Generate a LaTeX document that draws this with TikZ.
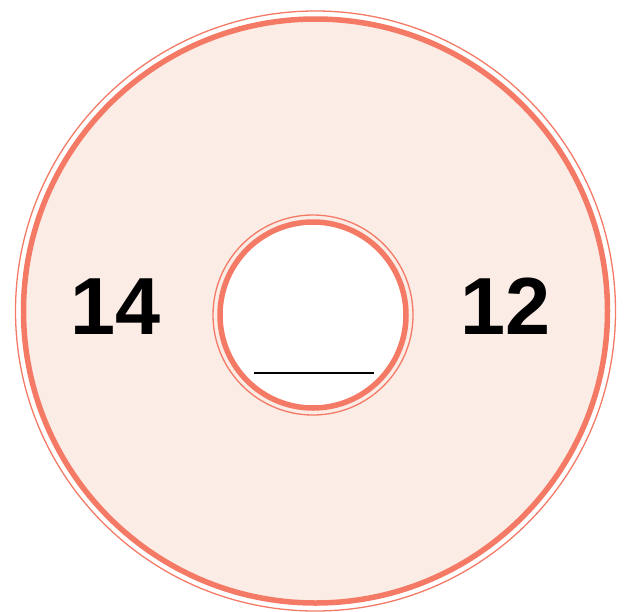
\documentclass[tikz,border=0pt]{standalone}
\usepackage{fontspec}
\setmainfont{Liberation Sans}
\usetikzlibrary{positioning}
\definecolor{Salmon}{HTML}{F47A66}
\definecolor{SalmonLight}{HTML}{FCECE6}
\tikzset{
  ringthick/.style={draw=Salmon, line width=5.5pt},
  ringthin/.style={draw=Salmon, line width=1.3pt},
  bignum/.style={font=\fontsize{81}{81}\selectfont\bfseries, text=black,
    inner sep=0pt},
  blank/.style={line width=2pt, color=black},
}
\begin{document}
\begin{tikzpicture}[x=1pt,y=-1pt]
  \useasboundingbox (0,0) rectangle (627,611);
  \coordinate (outer) at (315.5,311);
  \coordinate (hole)  at (313,315);

  % ring
  \fill[SalmonLight, even odd rule] (outer) circle[radius=292pt]
                                    (hole)  circle[radius=93pt];
  \draw[ringthin]  (outer) circle[radius=300pt];
  \draw[ringthick] (outer) circle[radius=292pt];
  \draw[ringthin]  (hole)  circle[radius=100pt];
  \draw[ringthick] (hole)  circle[radius=93pt];

  % numbers
  \node (left)  [bignum] at (116,306.5) {14};
  \node (right) [bignum] at (506,306.5) {12};

  % blank
  \coordinate (bl) at (254,373);
  \coordinate (br) at (374,373);
  \draw[blank] (bl) -- (br);
\end{tikzpicture}
\end{document}
